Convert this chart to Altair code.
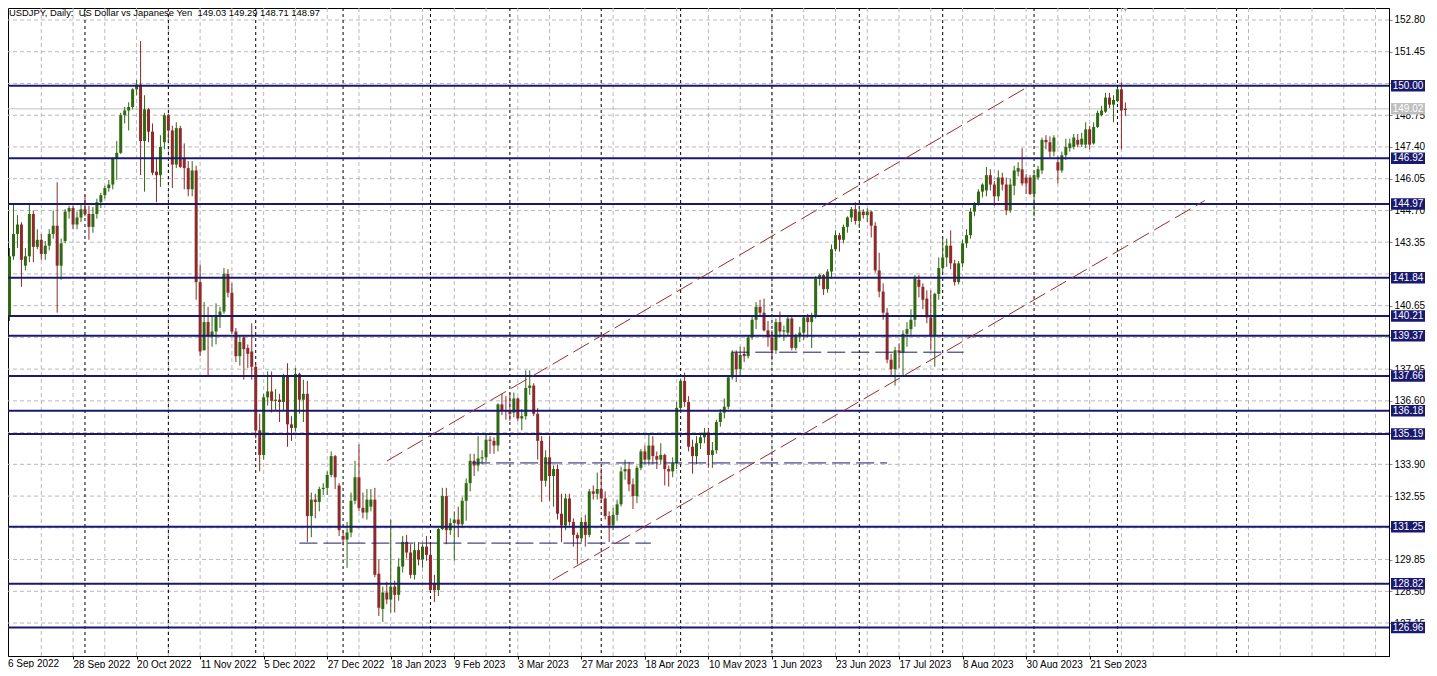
import altair as alt
import pandas as pd

# ---------------- data (daily USDJPY candles, 6 Sep 2022 .. 4 Oct 2023) ----------------
O = [140.25,142.75,143.70,144.10,142.35,142.75,144.55,143.15,143.45,142.85,143.20,143.70,144.05,142.35,143.40,144.65,144.80,144.10,144.40,
     144.75,144.55,144.00,144.55,145.05,145.35,145.65,145.80,146.90,147.15,148.75,148.95,149.10,149.85,150.05,147.65,149.00,148.05,146.35,146.20,147.60,
     148.75,148.10,146.65,148.20,146.90,146.50,145.60,146.40,141.65,138.75,139.95,139.35,139.55,140.25,140.40,142.00,141.20,139.55,138.50,139.30,138.85,138.70,
     138.05,135.35,134.30,136.75,137.00,136.60,136.65,136.55,137.70,135.60,135.45,137.75,136.65,136.90,131.70,132.40,132.30,132.85,132.90,133.45,134.25,133.00,
     130.85,130.70,131.00,132.35,133.35,132.05,131.85,132.10,132.40,129.25,127.75,128.45,128.15,128.70,128.35,129.55,130.60,130.15,129.20,130.25,129.85,130.40,
     130.05,128.85,128.55,131.15,132.55,131.10,131.40,131.55,131.35,132.35,133.10,134.05,133.85,134.15,134.20,134.95,134.90,134.70,136.45,136.20,
     136.15,136.10,136.70,135.85,135.95,137.15,137.25,136.05,134.90,133.20,134.20,133.40,133.70,131.80,131.30,132.45,131.45,130.90,130.75,131.45,130.90,132.75,132.65,
     132.85,132.45,131.70,131.30,131.75,132.20,133.60,133.70,133.05,132.55,133.75,134.45,134.10,134.70,134.25,134.10,134.30,133.70,133.60,133.95,
     136.30,137.45,136.55,134.65,134.25,134.80,135.05,135.25,134.30,134.50,135.70,136.10,136.35,137.60,138.65,137.95,138.60,138.50,139.30,140.05,140.60,140.35,139.60,
     139.30,138.75,139.95,139.55,139.50,140.10,138.85,139.35,139.50,140.15,139.95,140.25,141.80,141.95,141.35,142.10,143.05,143.65,143.45,144.00,144.40,144.75,
     144.25,144.65,144.50,144.65,144.05,142.15,141.25,140.35,138.35,137.95,138.75,138.65,139.45,139.65,140.05,141.75,141.45,140.95,140.15,139.35,141.15,
     142.25,142.70,143.20,142.45,141.65,142.45,143.30,143.65,144.65,144.95,145.50,145.55,146.20,145.80,145.30,146.10,145.80,144.70,145.75,146.35,146.45,146.10,146.10,
     145.40,146.10,146.40,147.70,147.60,147.20,146.75,146.40,147.05,147.35,147.40,147.70,147.50,147.50,148.15,147.55,148.25,148.75,148.90,149.50,149.20,
     149.35,149.85,149.03]
H = [143.10,144.95,144.50,144.20,143.10,144.95,144.70,143.90,143.70,143.40,143.90,144.70,145.90,143.50,144.75,144.90,144.90,144.65,144.95,
     145.35,144.90,144.85,145.20,145.45,145.75,146.00,146.95,147.65,148.85,149.10,149.30,149.90,150.25,151.90,149.60,149.05,148.40,146.90,147.90,148.85,
     148.80,148.30,148.45,148.30,147.55,146.80,146.80,146.60,142.40,140.80,140.60,140.20,140.75,140.60,142.25,142.20,141.60,139.70,139.35,139.40,139.00,139.90,
     138.15,136.05,136.90,137.85,137.85,137.10,136.90,137.75,138.20,135.95,138.00,137.80,137.50,137.45,132.70,132.65,132.95,133.10,133.60,134.45,134.30,133.10,
     131.10,131.45,132.70,134.05,134.75,132.70,132.85,132.85,132.90,129.85,128.70,128.90,131.55,128.95,129.90,130.85,130.90,130.50,130.60,130.60,130.50,130.85,
     130.50,129.20,131.20,132.90,132.90,131.60,131.90,132.10,132.50,133.30,134.35,134.35,135.10,134.50,135.20,135.10,135.05,136.50,136.90,136.80,
     136.95,136.95,136.75,136.25,137.90,137.90,137.35,136.30,135.10,134.50,135.10,133.85,133.90,132.65,132.65,132.65,131.60,131.00,131.65,131.75,132.85,133.00,133.55,
     133.75,132.75,131.90,132.05,132.40,133.80,134.10,134.00,133.30,133.85,134.55,134.70,135.15,135.10,134.45,134.80,134.35,133.85,134.20,136.55,
     137.55,137.80,136.80,134.95,135.10,135.15,135.45,135.45,134.85,135.80,136.25,136.70,137.70,138.75,138.75,138.90,138.90,139.40,140.20,140.80,140.90,140.95,140.00,
     139.60,140.10,140.40,139.80,140.25,140.25,139.45,139.75,140.25,140.30,140.35,141.90,142.00,142.00,142.20,143.25,143.85,143.75,144.10,144.45,144.85,145.05,
     144.90,144.75,144.80,144.70,144.20,142.90,141.60,140.55,138.60,138.90,139.05,139.60,139.95,140.50,141.95,141.95,141.60,141.30,141.30,141.20,142.70,
     143.50,143.50,143.85,142.60,142.55,143.45,143.90,144.80,145.05,145.60,145.85,146.55,146.45,145.95,146.40,146.30,146.10,146.05,146.60,146.75,147.35,146.25,146.20,
     146.30,146.60,147.80,147.90,147.85,147.90,147.00,147.20,147.75,147.75,147.95,147.95,148.00,148.45,148.30,148.45,148.95,149.15,149.70,149.70,149.60,
     149.90,150.15,149.29]
L = [140.00,142.60,143.10,141.45,142.15,142.50,142.50,143.05,142.60,142.60,143.00,143.50,140.35,141.75,143.30,144.35,143.90,143.90,144.20,
     144.45,143.45,143.75,144.35,144.80,145.20,145.50,145.60,146.00,147.10,148.40,148.10,149.00,149.60,146.20,145.50,147.60,146.20,145.05,145.70,147.30,
     147.60,145.65,146.50,146.50,145.60,145.30,145.30,140.90,138.50,138.75,137.65,138.90,139.00,139.70,140.30,141.00,139.45,138.25,138.10,137.50,138.00,137.50,
     135.00,133.60,134.10,136.40,136.10,136.20,135.70,136.20,134.65,134.90,135.30,136.05,135.70,130.60,130.80,131.60,131.90,132.60,132.60,133.35,132.85,130.85,
     130.45,129.50,130.80,132.20,131.90,131.60,131.55,131.90,129.10,127.45,127.20,127.95,127.60,127.60,128.10,129.30,129.90,129.05,129.00,129.60,129.50,129.80,
     128.50,128.05,128.30,131.10,130.50,130.90,129.80,130.80,131.20,131.50,132.75,133.40,133.60,133.90,134.00,134.35,134.35,134.45,136.00,135.80,
     135.75,135.90,135.75,135.35,135.80,136.85,135.95,134.10,132.30,132.95,132.35,132.10,131.55,130.60,131.10,131.30,130.40,129.65,130.60,130.40,130.80,132.40,132.40,
     132.25,131.55,130.60,131.10,131.50,132.10,133.25,132.75,132.00,132.25,133.65,133.90,133.85,133.90,133.70,133.90,133.00,132.95,133.35,133.70,
     136.10,136.35,134.45,133.50,133.90,134.55,134.80,133.75,133.75,134.35,135.50,135.85,136.25,137.50,137.40,137.70,138.25,138.40,139.20,139.65,140.20,139.55,138.90,
     138.35,138.60,139.30,139.15,139.35,138.75,138.75,139.10,139.20,139.30,138.85,140.10,141.50,141.10,141.20,141.80,142.95,142.95,143.30,143.75,144.20,144.10,
     143.95,144.35,144.20,143.55,142.05,141.00,140.05,138.20,137.70,137.25,138.00,137.70,138.90,139.40,139.75,141.00,140.50,139.90,138.75,138.05,140.90,
     142.05,142.30,142.20,141.50,141.55,142.30,143.10,143.50,144.45,144.90,145.25,145.30,145.55,144.90,145.10,145.55,144.50,144.60,145.35,146.15,145.75,145.40,145.35,
     144.45,146.00,146.25,147.30,146.95,147.00,145.85,146.30,146.85,147.20,147.30,147.40,147.40,147.35,147.30,147.50,148.20,148.70,148.85,149.05,148.45,
     149.30,147.30,148.71]
C = [142.75,143.70,144.10,142.60,142.75,144.55,143.15,143.45,142.85,143.20,143.70,144.05,142.35,143.30,144.65,144.80,144.10,144.40,144.75,
     144.55,144.00,144.55,145.05,145.35,145.65,145.80,146.90,147.15,148.75,148.95,149.10,149.85,150.05,147.65,149.00,148.05,146.30,146.20,147.40,148.75,
     148.10,146.65,148.20,146.55,146.50,145.60,146.40,141.65,138.70,139.95,139.35,139.55,140.25,140.40,142.00,141.20,139.55,138.50,139.10,138.80,138.60,138.05,
     135.35,134.30,136.75,137.00,136.60,136.65,136.55,137.70,135.60,135.45,137.75,136.65,136.90,131.70,132.40,132.30,132.85,132.90,133.45,134.25,133.35,131.10,
     130.70,131.00,132.35,133.35,132.05,131.85,132.40,132.40,129.20,127.80,128.45,128.15,128.70,128.35,129.55,130.60,130.15,129.20,130.25,129.85,130.40,130.05,
     128.55,128.55,131.15,132.55,131.10,131.40,131.55,131.35,132.35,133.10,134.05,133.85,134.15,134.20,134.95,134.90,134.70,136.45,136.20,136.15,
     136.05,136.70,135.85,135.95,137.15,137.25,136.05,134.90,133.20,134.20,133.40,133.70,131.80,131.30,132.45,131.45,130.90,130.75,131.45,130.90,132.75,132.65,132.85,
     132.45,131.70,131.30,131.75,132.20,133.60,133.70,133.05,132.55,133.75,134.45,134.10,134.70,134.25,134.10,134.30,133.70,133.60,133.95,136.30,
     137.45,136.55,134.65,134.25,134.80,135.05,135.25,134.30,134.50,135.70,136.10,136.35,137.60,138.65,137.95,138.55,138.50,139.30,140.05,140.60,140.35,139.60,139.30,
     138.75,139.95,139.55,139.60,140.10,138.85,139.35,139.50,140.15,139.95,140.25,141.80,141.95,141.35,142.10,143.05,143.65,143.45,144.00,144.40,144.75,144.25,
     144.65,144.50,144.65,144.05,142.15,141.25,140.35,138.35,137.95,138.75,138.65,139.45,139.65,140.05,141.80,141.45,140.90,140.15,139.35,141.15,142.25,
     142.70,143.20,142.45,141.65,142.45,143.30,143.65,144.65,144.95,145.50,145.80,146.20,145.80,145.30,146.10,145.80,144.70,145.80,146.40,146.50,145.85,145.85,145.40,
     146.20,146.45,147.70,147.60,147.20,147.80,146.40,147.05,147.40,147.55,147.80,147.50,147.75,148.15,147.50,148.25,148.85,148.95,149.50,149.20,149.40,
     149.85,148.95,148.97]

levels = [150.00, 146.92, 144.97, 141.84, 140.21, 139.37, 137.66, 136.18, 135.19, 131.25, 128.82, 126.96]
bid_price = 149.02

support_price = [138.67, 133.96, 130.55]
support_from = [181.75, 116.5, 73.0]
support_to = [240.25, 221.0, 161.5]

channel_x1 = [95.0, 136.75]
channel_p1 = [134.04, 128.98]
channel_x2 = [257.25, 301.0]
channel_p2 = [150.04, 145.12]

month_starts = [19, 40, 62, 84, 106, 126, 149, 169, 192, 214, 235, 258, 279, 309]

date_labels = ["6 Sep 2022", "28 Sep 2022", "20 Oct 2022", "11 Nov 2022", "5 Dec 2022",
               "27 Dec 2022", "18 Jan 2023", "9 Feb 2023", "3 Mar 2023", "27 Mar 2023",
               "18 Apr 2023", "10 May 2023", "1 Jun 2023", "23 Jun 2023", "17 Jul 2023",
               "8 Aug 2023", "30 Aug 2023", "21 Sep 2023"]

price_ticks = [round(152.80 - 1.35 * k, 2) for k in range(20)]
# grid prices whose labels sit completely under a level box on the price scale
covered_ticks = [150.10, 142.00, 139.30, 135.25, 131.20]

title_text = "USDJPY, Daily:\u00a0 US Dollar vs Japanese Yen\u00a0 149.03 149.29 148.71 148.97"

# ---------------- styling ----------------
UP = "#2f6a12"
DOWN = "#8e2a2a"
NAVY = "#191970"
CHAN = "#9b2b2b"
GRID = "#b9b9b9"
FONT = "Liberation Sans"
FS = 10

W, Hh = 1381, 648
xs = alt.Scale(domain=[0.875, 346.125], nice=False, zero=False)
ys = alt.Scale(domain=[125.748, 153.31], nice=False, zero=False)

x_label_expr = "[" + ",".join("'%s'" % d for d in date_labels) + "][round(datum.value / 16)]"
y_label_expr = "(" + " || ".join("abs(datum.value - %.2f) < 0.005" % v for v in covered_ticks) + \
    ") ? '' : format(datum.value, '.2f')"

XAX = alt.Axis(
    values=list(range(16, 16 * len(date_labels), 16)), labelExpr=x_label_expr,
    orient="bottom", grid=False, domainColor="black", tickColor="black", tickSize=3,
    labelAlign="left", labelBaseline="top", labelPadding=0, labelFont=FONT,
    labelFontSize=FS, labelColor="black", title=None, labelOverlap=False,
    labelFlush=False)
YAX = alt.Axis(
    values=price_ticks, labelExpr=y_label_expr, orient="right", grid=False,
    domainColor="black", tickColor="#8a8a8a", tickSize=3, labelPadding=2,
    labelFont=FONT, labelFontSize=FS, labelColor="black", title=None,
    labelOverlap=False, labelFlush=False)

# ---------------- tables ----------------
rows = []
for i, (o, h, l, c) in enumerate(zip(O, H, L, C)):
    top, bot = max(o, c), min(o, c)
    if top - bot < 0.045:
        top = bot + 0.045
    rows.append({"bar": i, "open": o, "high": max(h, o, c), "low": min(l, o, c),
                 "close": c, "top": top, "bot": bot,
                 "dir": "up" if c >= o else "down"})
candles = pd.DataFrame(rows)

color = alt.Color("dir:N", scale=alt.Scale(domain=["up", "down"], range=[UP, DOWN]), legend=None)


def X(field):
    return alt.X(field, scale=xs, axis=XAX)


def Y(field):
    return alt.Y(field, scale=ys, axis=YAX)


wicks = alt.Chart(candles).mark_rule(strokeWidth=1, clip=True).encode(
    x=X("bar:Q"), y=Y("low:Q"), y2="high:Q", color=color)
bodies = alt.Chart(candles).mark_bar(size=3, clip=True).encode(
    x=X("bar:Q"), y=Y("bot:Q"), y2="top:Q", color=color)

vgrid = alt.Chart(pd.DataFrame({"bar": list(range(8, 346, 8))})).mark_rule(
    color=GRID, strokeDash=[4, 3], strokeWidth=1).encode(x=X("bar:Q"))
hgrid = alt.Chart(pd.DataFrame({"p": price_ticks})).mark_rule(
    color=GRID, strokeDash=[4, 3], strokeWidth=1).encode(y=Y("p:Q"))
seps = alt.Chart(pd.DataFrame({"bar": month_starts})).mark_rule(
    color="black", strokeDash=[3, 3], strokeWidth=1).encode(x=X("bar:Q"))

bid_line = alt.Chart(pd.DataFrame({"p": [bid_price]})).mark_rule(
    color="#c0c0c0", strokeWidth=1).encode(y=Y("p:Q"))

level_lines = alt.Chart(pd.DataFrame({"p": levels})).mark_rule(
    color=NAVY, strokeWidth=2).encode(y=Y("p:Q"))

support = alt.Chart(pd.DataFrame({"p": support_price, "a": support_from, "b": support_to})).mark_rule(
    color=NAVY, strokeDash=[18, 6], strokeWidth=1).encode(
    x=X("a:Q"), x2="b:Q", y=Y("p:Q"))

channel = alt.Chart(pd.DataFrame({"x1": channel_x1, "p1": channel_p1,
                                  "x2": channel_x2, "p2": channel_p2})).mark_rule(
    color=CHAN, strokeDash=[18, 6], strokeWidth=1).encode(
    x=X("x1:Q"), x2="x2:Q", y=Y("p1:Q"), y2="p2:Q")

half = 0.245
lab_df = pd.DataFrame({"p": levels, "hi": [v + half for v in levels],
                       "lo": [v - half for v in levels],
                       "t": ["%.2f" % v for v in levels]})
bid_df = pd.DataFrame({"p": [bid_price], "hi": [bid_price + half], "lo": [bid_price - half],
                       "t": ["%.2f" % bid_price]})

box_x1, box_x2, box_xc = 1383, 1417, 1400
bid_box = alt.Chart(bid_df).mark_rect(color="#c0c0c0").encode(
    x=alt.value(box_x1), x2=alt.value(box_x2), y=Y("hi:Q"), y2="lo:Q")
bid_txt = alt.Chart(bid_df).mark_text(color="white", font=FONT, fontSize=FS,
                                      align="center", baseline="middle").encode(
    x=alt.value(box_xc), y=Y("p:Q"), text="t:N")
boxes = alt.Chart(lab_df).mark_rect(color=NAVY).encode(
    x=alt.value(box_x1), x2=alt.value(box_x2), y=Y("hi:Q"), y2="lo:Q")
box_txt = alt.Chart(lab_df).mark_text(color="white", font=FONT, fontSize=FS,
                                      align="center", baseline="middle").encode(
    x=alt.value(box_xc), y=Y("p:Q"), text="t:N")

# chart-shift marker above the last bar
shift_mark = alt.Chart(pd.DataFrame({"bar": [len(C) - 1]})).mark_point(
    shape="triangle-down", filled=True, color="#a8a8a8", size=45, opacity=1).encode(
    x=X("bar:Q"), y=alt.value(1))

title = alt.Chart(pd.DataFrame({"t": [title_text]})).mark_text(
    align="left", baseline="alphabetic", font=FONT, fontSize=9.4, color="black").encode(
    x=alt.value(1), y=alt.value(8), text="t:N")

first_date = alt.Chart(pd.DataFrame({"t": [date_labels[0]]})).mark_text(
    align="left", baseline="top", font=FONT, fontSize=FS, color="black").encode(
    x=alt.value(0), y=alt.value(Hh + 3), text="t:N")

chart = alt.layer(
    vgrid, hgrid, seps, bid_line, wicks, bodies, level_lines, support, channel,
    bid_box, bid_txt, boxes, box_txt, shift_mark, title, first_date
).properties(
    width=W, height=Hh,
    padding={"left": 0, "top": 0, "right": 40, "bottom": 12},
    autosize=alt.AutoSizeParams(type="none"),
    background="white",
).configure_view(stroke="black", strokeWidth=1)

chart.save("out.html", embed_options={"renderer": "svg", "actions": False})
